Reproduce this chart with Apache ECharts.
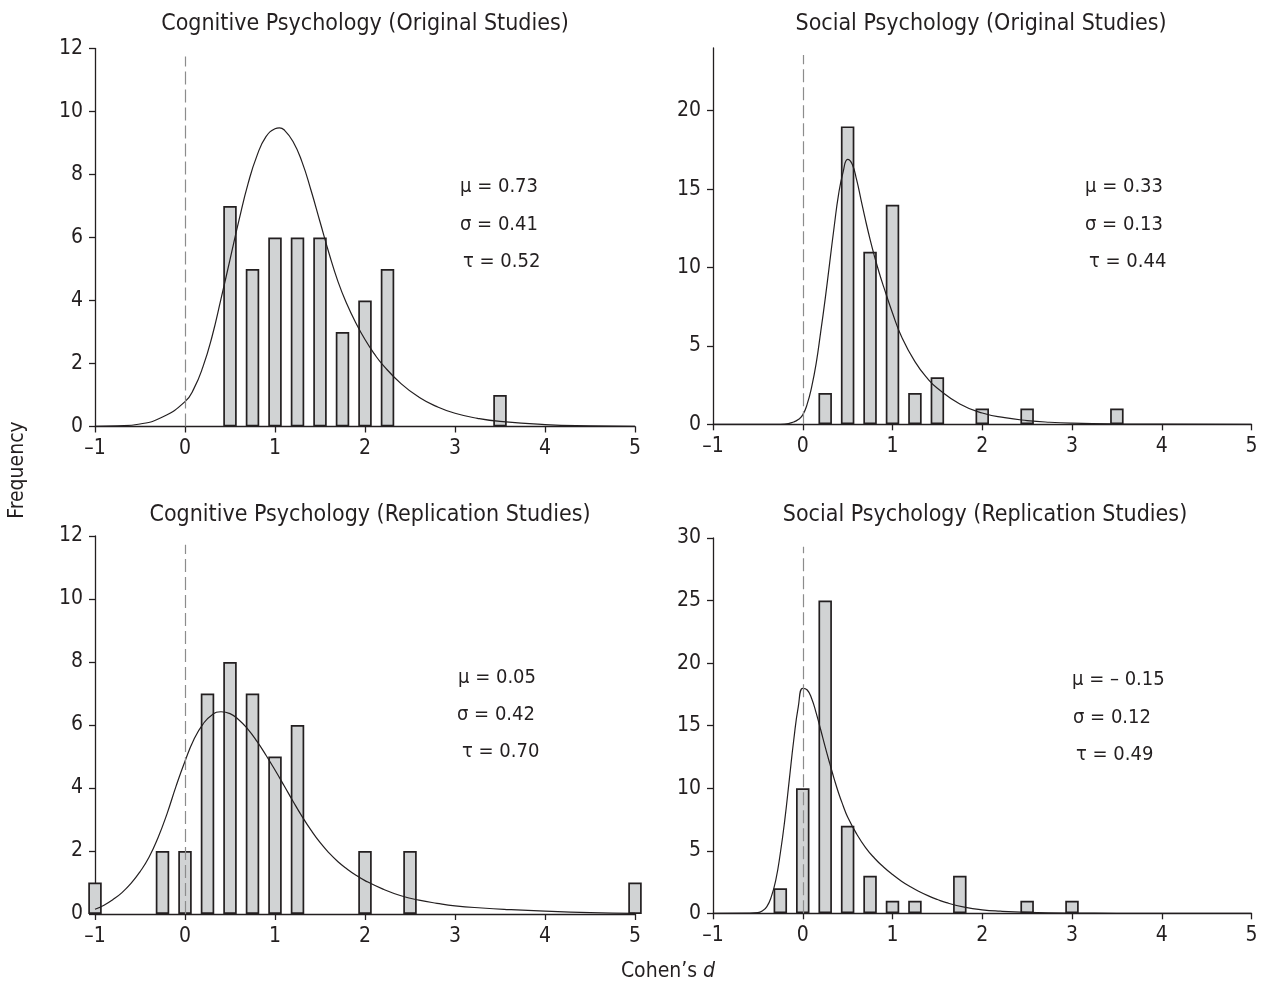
<!DOCTYPE html>
<html>
<head>
<meta charset="utf-8">
<script src="https://cdn.jsdelivr.net/npm/echarts@6/dist/echarts.min.js"></script>
<style>
html,body{margin:0;padding:0;background:#fff;}
#c{width:1266px;height:989px;}
</style>
</head>
<body>
<div id="c"></div>
<script>
// ---- Data ----
const xTicks = [-1, 0, 1, 2, 3, 4, 5];

const titles = [
  'Cognitive Psychology (Original Studies)',
  'Social Psychology (Original Studies)',
  'Cognitive Psychology (Replication Studies)',
  'Social Psychology (Replication Studies)'
];

const cogOrigBins = [0.5, 0.75, 1.0, 1.25, 1.5, 1.75, 2.0, 2.25, 3.5];
const cogOrigCounts = [7, 5, 6, 6, 6, 3, 4, 5, 1];
const socOrigBins = [0.25, 0.5, 0.75, 1.0, 1.25, 1.5, 2.0, 2.5, 3.5];
const socOrigCounts = [2, 19, 11, 14, 2, 3, 1, 1, 1];
const cogRepBins = [-1.0, -0.25, 0, 0.25, 0.5, 0.75, 1.0, 1.25, 2.0, 2.5, 5.0];
const cogRepCounts = [1, 2, 2, 7, 8, 7, 5, 6, 2, 2, 1];
const socRepBins = [-0.25, 0, 0.25, 0.5, 0.75, 1.0, 1.25, 1.75, 2.5, 3.0];
const socRepCounts = [2, 10, 25, 7, 3, 1, 1, 3, 1, 1];

const cogOrigCurveX = [-1, -0.75, -0.5, -0.25, 0, 0.1, 0.2, 0.3, 0.4, 0.5, 0.6, 0.7, 0.8, 0.9, 1.0, 1.05, 1.1, 1.2, 1.3, 1.4, 1.5, 1.6, 1.7, 1.8, 1.9, 2.0, 2.1, 2.2, 2.4, 2.6, 2.8, 3.0, 3.25, 3.5, 4.0, 4.5, 5.0];
const cogOrigCurveY = [0.005, 0.02, 0.08, 0.3, 0.79, 1.21, 1.9, 2.85, 4.05, 5.3, 6.55, 7.7, 8.6, 9.2, 9.45, 9.48, 9.42, 9.05, 8.4, 7.5, 6.5, 5.5, 4.6, 3.88, 3.28, 2.76, 2.32, 1.95, 1.36, 0.93, 0.63, 0.42, 0.26, 0.16, 0.06, 0.02, 0.005];

const socOrigCurveX = [-1, -0.3, -0.2, -0.1, -0.05, 0, 0.05, 0.1, 0.15, 0.2, 0.25, 0.3, 0.35, 0.4, 0.45, 0.5, 0.55, 0.6, 0.65, 0.7, 0.75, 0.8, 0.85, 0.9, 1.0, 1.1, 1.25, 1.4, 1.5, 1.75, 2.0, 2.25, 2.5, 2.75, 3.0, 3.5, 4.0, 5.0];
const socOrigCurveY = [0, 0, 0.02, 0.15, 0.3, 0.6, 1.3, 2.4, 3.9, 5.9, 8.0, 10.3, 12.6, 14.7, 16.1, 16.9, 16.6, 15.6, 14.3, 13.0, 11.8, 10.7, 9.7, 8.8, 7.1, 5.6, 4.0, 2.85, 2.3, 1.3, 0.72, 0.42, 0.24, 0.13, 0.07, 0.02, 0.005, 0];

const cogRepCurveX = [-1, -0.9, -0.8, -0.7, -0.6, -0.5, -0.4, -0.3, -0.2, -0.1, 0, 0.1, 0.2, 0.3, 0.4, 0.5, 0.6, 0.7, 0.8, 0.9, 1.0, 1.1, 1.2, 1.3, 1.4, 1.5, 1.6, 1.7, 1.8, 1.9, 2.0, 2.2, 2.4, 2.6, 2.8, 3.0, 3.3, 3.6, 4.0, 4.5, 5.0];
const cogRepCurveY = [0.15, 0.28, 0.46, 0.68, 0.97, 1.34, 1.8, 2.42, 3.18, 4.05, 4.85, 5.55, 6.03, 6.32, 6.42, 6.36, 6.16, 5.86, 5.48, 5.04, 4.57, 4.08, 3.58, 3.1, 2.66, 2.27, 1.94, 1.66, 1.43, 1.23, 1.06, 0.79, 0.58, 0.44, 0.34, 0.26, 0.19, 0.14, 0.09, 0.045, 0.02];

const socRepCurveX = [-1, -0.6, -0.5, -0.45, -0.4, -0.35, -0.3, -0.25, -0.2, -0.15, -0.1, -0.05, 0, 0.05, 0.1, 0.15, 0.2, 0.25, 0.3, 0.35, 0.4, 0.45, 0.5, 0.6, 0.7, 0.8, 0.9, 1.0, 1.1, 1.2, 1.3, 1.4, 1.5, 1.6, 1.8, 2.0, 2.2, 2.5, 3.0, 3.5, 5.0];
const socRepCurveY = [0, 0.01, 0.05, 0.19, 0.53, 1.33, 2.67, 4.8, 7.47, 10.67, 13.87, 16.5, 17.98, 17.85, 17.15, 16.0, 14.67, 13.3, 12.0, 10.75, 9.6, 8.6, 7.7, 6.35, 5.25, 4.4, 3.7, 3.1, 2.57, 2.12, 1.73, 1.39, 1.1, 0.85, 0.5, 0.28, 0.17, 0.08, 0.02, 0.005, 0];

const cogOrigStats = ['\u03bc = 0.73', '\u03c3 = 0.41', '\u03c4 = 0.52'];
const socOrigStats = ['\u03bc = 0.33', '\u03c3 = 0.13', '\u03c4 = 0.44'];
const cogRepStats = ['\u03bc = 0.05', '\u03c3 = 0.42', '\u03c4 = 0.70'];
const socRepStats = ['\u03bc = \u2013 0.15', '\u03c3 = 0.12', '\u03c4 = 0.49'];

const yMaxes = [12, 24, 12, 30];
const yIntervals = [2, 5, 2, 5];
const yTickValues = [
  [0, 2, 4, 6, 8, 10, 12],
  [0, 5, 10, 15, 20],
  [0, 2, 4, 6, 8, 10, 12],
  [0, 5, 10, 15, 20, 25, 30]
];

// ---- Layout / style ----
const FONT = "'Liberation Sans Narrow', 'DejaVu Sans Condensed', 'Roboto Condensed', 'Liberation Sans', sans-serif";
const INK = '#231f20';
const grids = [
  {left: 95, top: 48.5, width: 540, height: 378},
  {left: 713, top: 48, width: 538.5, height: 376.3},
  {left: 95, top: 536, width: 540, height: 378},
  {left: 713, top: 538, width: 538.5, height: 375.3}
];
const dashTops = [11.75, 23.55, 11.72, 29.3];
const titlePos = [[365, 24], [981, 24], [370, 515], [985, 515]];
const statPos = [
  [[460, 187], [460, 225], [463, 262]],
  [[1085, 187], [1085, 225], [1089, 262]],
  [[458, 678], [457, 715], [462, 752]],
  [[1072, 680], [1073, 718], [1076, 755]]
];

const binsAll = [cogOrigBins, socOrigBins, cogRepBins, socRepBins];
const countsAll = [cogOrigCounts, socOrigCounts, cogRepCounts, socRepCounts];
const curveXAll = [cogOrigCurveX, socOrigCurveX, cogRepCurveX, socRepCurveX];
const curveYAll = [cogOrigCurveY, socOrigCurveY, cogRepCurveY, socRepCurveY];
const statsAll = [cogOrigStats, socOrigStats, cogRepStats, socRepStats];

const fmt = v => String(v).replace('-', '\u2013');

const option = {
  animation: false,
  backgroundColor: '#fff',
  textStyle: {fontFamily: FONT},
  grid: grids.map(g => Object.assign({outerBoundsMode: 'none', containLabel: false}, g)),
  xAxis: grids.map((g, i) => ({
    type: 'value', gridIndex: i, min: -1, max: 5, interval: 1,
    splitLine: {show: false},
    axisLine: {onZero: false, lineStyle: {color: INK, width: 1.3}},
    axisTick: {show: true, length: 6, lineStyle: {color: INK, width: 1.3}, customValues: xTicks},
    axisLabel: {fontFamily: FONT, fontSize: 21, color: INK, margin: 12, formatter: fmt, customValues: xTicks}
  })),
  yAxis: grids.map((g, i) => ({
    type: 'value', gridIndex: i, min: 0, max: yMaxes[i], interval: yIntervals[i],
    splitLine: {show: false},
    axisLine: {show: true, onZero: false, lineStyle: {color: INK, width: 1.3}},
    axisTick: {show: true, length: 6, lineStyle: {color: INK, width: 1.3}, customValues: yTickValues[i]},
    axisLabel: {fontFamily: FONT, fontSize: 21, color: INK, margin: 12, customValues: yTickValues[i]}
  })),
  series: [],
  graphic: []
};

for (let i = 0; i < 4; i++) {
  option.series.push({
    type: 'bar', xAxisIndex: i, yAxisIndex: i, clip: true,
    barWidth: 13.5,
    itemStyle: {color: '#d1d3d4', borderColor: INK, borderWidth: 1.7},
    data: binsAll[i].map((b, k) => [b, countsAll[i][k]]),
    z: 2,
    markLine: {
      silent: true, symbol: 'none', label: {show: false},
      lineStyle: {type: [13, 5], color: '#8c8c8c', width: 1.2},
      data: [[{coord: [0, 0]}, {coord: [0, dashTops[i]]}]]
    }
  });
  option.series.push({
    type: 'line', xAxisIndex: i, yAxisIndex: i, clip: true,
    smooth: 0.5, showSymbol: false, symbol: 'none',
    lineStyle: {color: INK, width: 1.2},
    data: curveXAll[i].map((x, k) => [x, curveYAll[i][k]]),
    z: 3
  });
  option.graphic.push({
    type: 'text', x: titlePos[i][0], y: titlePos[i][1],
    style: {text: titles[i], font: '23px ' + FONT, fill: INK, align: 'center', verticalAlign: 'middle'}
  });
  statsAll[i].forEach((s, k) => {
    option.graphic.push({
      type: 'text', x: statPos[i][k][0], y: statPos[i][k][1],
      style: {text: s, font: '20px ' + FONT, fill: INK, align: 'left', verticalAlign: 'middle'}
    });
  });
}

option.graphic.push({
  type: 'text', x: 18, y: 470, rotation: Math.PI / 2,
  style: {text: 'Frequency', font: '21px ' + FONT, fill: INK, align: 'center', verticalAlign: 'middle'}
});
option.graphic.push({
  type: 'text', x: 668, y: 972,
  style: {
    text: 'Cohen\u2019s {i|d}', font: '21px ' + FONT, fill: INK, align: 'center', verticalAlign: 'middle',
    rich: {i: {fontStyle: 'italic', fontSize: 21, fontFamily: FONT, fill: INK}}
  }
});

const chart = echarts.init(document.getElementById('c'), null, {renderer: 'canvas'});
chart.setOption(option);
</script>
</body>
</html>
